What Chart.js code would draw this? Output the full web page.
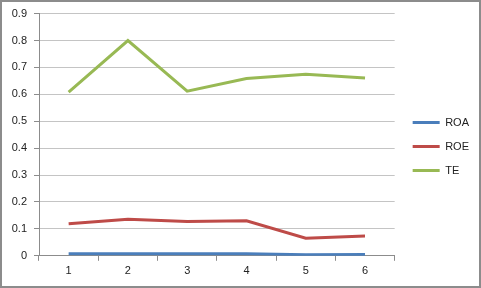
<!DOCTYPE html>
<html>
<head>
<meta charset="utf-8">
<script src="https://cdn.jsdelivr.net/npm/chart.js@4"></script>
<style>
  html, body { margin: 0; padding: 0; background: #fff; }
  #wrap { width: 481px; height: 288px; }
</style>
</head>
<body>
<div id="wrap"><canvas id="chart" width="481" height="288"></canvas></div>
<script>
// --- Data ---
const periods = ['1', '2', '3', '4', '5', '6'];
const roa = [0.008, 0.008, 0.008, 0.008, 0.004, 0.005];
const roe = [0.119, 0.136, 0.127, 0.130, 0.065, 0.074];
const te = [0.608, 0.800, 0.612, 0.659, 0.675, 0.661];

// Excel-like frame around the whole picture
const frame = {
  id: 'frame',
  beforeDraw(chart) {
    const c = chart.ctx;
    c.save();
    c.fillStyle = '#fff';
    c.fillRect(0, 0, chart.width, chart.height);
    c.restore();
  },
  afterLayout(chart) {
    // push the legend a bit further from the plot, like the original
    chart.legend.left += 5;
    chart.legend.right += 5;
  },
  afterDraw(chart) {
    const c = chart.ctx;
    c.save();
    c.strokeStyle = '#8c8c8c';
    c.lineWidth = 2;
    c.strokeRect(1, 1, chart.width - 2, chart.height - 2);
    c.restore();
  }
};

const line = (label, data, color) => ({
  label, data,
  borderColor: color, backgroundColor: color,
  borderWidth: 3, pointRadius: 0, tension: 0
});

new Chart(document.getElementById('chart'), {
  type: 'line',
  data: {
    labels: periods,
    datasets: [
      line('ROA', roa, '#4a7ebb'),
      line('ROE', roe, '#be4b48'),
      line('TE', te, '#98b954')
    ]
  },
  options: {
    responsive: false,
    animation: false,
    layout: { padding: { left: 6, right: 7, top: 11, bottom: 6 } },
    plugins: {
      legend: {
        position: 'right',
        labels: {
          boxWidth: 27, boxHeight: 3, padding: 13,
          color: '#222', font: { family: 'Liberation Sans', size: 11 },
          generateLabels(chart) {
            return Chart.defaults.plugins.legend.labels.generateLabels(chart)
              .map(l => ({ ...l, lineWidth: 0 }));
          }
        }
      },
      tooltip: { enabled: false }
    },
    scales: {
      x: {
        offset: true,
        grid: { offset: true, drawOnChartArea: false, drawTicks: true, tickLength: 5, color: '#8c8c8c' },
        border: { color: '#8c8c8c' },
        ticks: { color: '#222', padding: 4, font: { family: 'Liberation Sans', size: 11 } }
      },
      y: {
        min: 0, max: 0.9,
        afterFit(scale) { scale.width = 33; },
        grid: { color: '#c4c4c4', tickLength: 5, tickColor: '#8c8c8c' },
        border: { color: '#8c8c8c' },
        ticks: {
          stepSize: 0.1, color: '#222', padding: 7,
          font: { family: 'Liberation Sans', size: 11 },
          callback: v => Number(v.toFixed(1)).toString()
        }
      }
    }
  },
  plugins: [frame]
});
</script>
</body>
</html>
